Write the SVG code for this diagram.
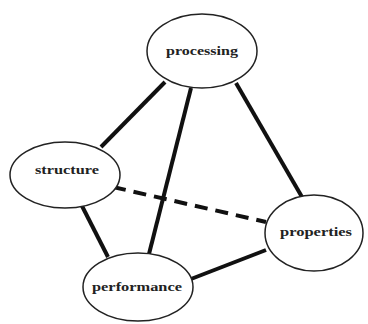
<svg xmlns="http://www.w3.org/2000/svg" width="368" height="324" viewBox="0 0 368 324">
<style>
.n ellipse{fill:#fff;stroke:#222;stroke-width:1.5}
.n text{font-family:"Liberation Serif","DejaVu Serif",serif;font-weight:bold;font-size:12px;fill:#222;text-anchor:middle}
.c line{stroke:#111;stroke-width:4;stroke-linecap:butt}
.c .d{stroke-dasharray:13,8}
</style>
<rect width="368" height="324" fill="#fff"/>
<g class="c" id="connectors">
<line x1="165" y1="82" x2="101" y2="147"/>
<line x1="191" y1="88" x2="149" y2="254"/>
<line x1="236" y1="83" x2="302" y2="197"/>
<line x1="82" y1="206" x2="108" y2="257"/>
<line x1="191" y1="279" x2="266" y2="250"/>
<line class="d" x1="113" y1="187" x2="266" y2="222"/>
</g>
<g class="n" id="processing"><ellipse cx="202" cy="51" rx="55" ry="37"/><text x="202" y="55" textLength="72" lengthAdjust="spacingAndGlyphs">processing</text></g>
<g class="n" id="structure"><ellipse cx="65" cy="175" rx="55" ry="33"/><text x="67" y="174" textLength="64" lengthAdjust="spacingAndGlyphs">structure</text></g>
<g class="n" id="properties"><ellipse cx="314" cy="233" rx="49" ry="38"/><text x="316" y="236" textLength="72" lengthAdjust="spacingAndGlyphs">properties</text></g>
<g class="n" id="performance"><ellipse cx="138" cy="287" rx="55" ry="34"/><text x="137" y="291" textLength="90" lengthAdjust="spacingAndGlyphs">performance</text></g>
</svg>
